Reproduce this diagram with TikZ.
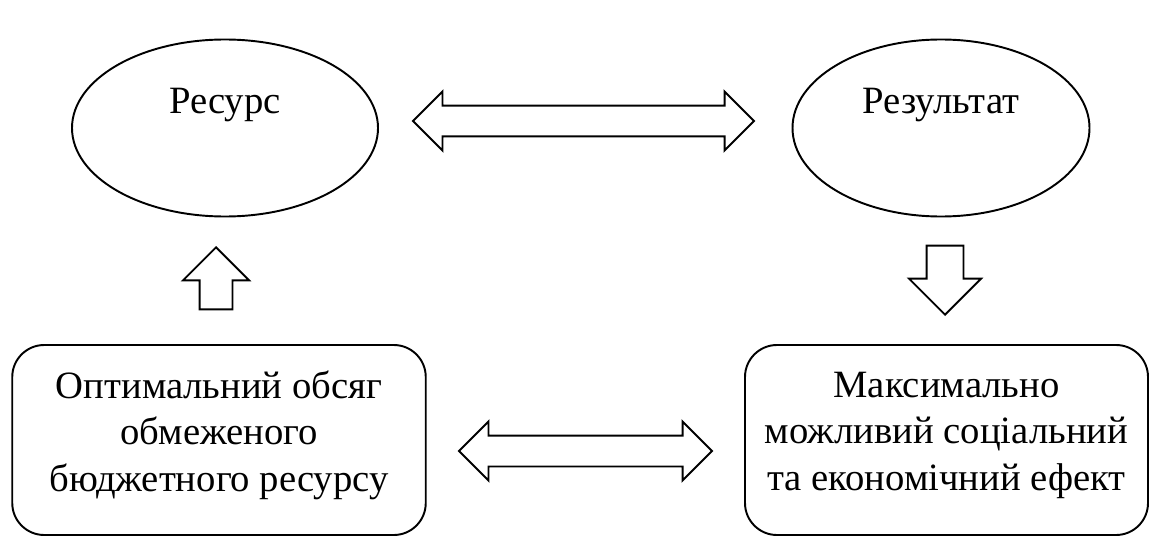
\documentclass[tikz,border=0pt]{standalone}
\usepackage{fontspec}
\setmainfont{Liberation Serif}
\usetikzlibrary{shapes.geometric, shapes.arrows}

\begin{document}
\begin{tikzpicture}[
  every node/.style={font=\fontsize{22}{26.4}\selectfont},
  oval/.style={ellipse, draw, line width=1.1pt, inner sep=0pt,
               minimum height=3.54cm, text height=0.5cm, text depth=1.1cm},
  box/.style={draw, line width=1.1pt, rounded corners=0.64cm, align=center,
              minimum height=3.8cm, execute at end node={\rule[-0.36cm]{0pt}{0pt}}},
  dblarrow/.style={double arrow, draw, line width=1.1pt, inner xsep=0pt,
                   inner ysep=0.29cm, double arrow head extend=0.28cm},
  blkarrow/.style={single arrow, draw, line width=1.1pt, inner ysep=0pt, anchor=tip},
]
\useasboundingbox (0,0) rectangle (22.98,-10.74);

\node[oval, minimum width=6.12cm] (res) at (4.50,-2.56)  {Ресурс};
\node[oval, minimum width=5.94cm] (rez) at (18.82,-2.56) {Результат};
\node[box, minimum width=8.27cm]  (opt) at (4.38,-8.80)
  {Оптимальний обсяг\\обмеженого\\бюджетного ресурсу};
\node[box, minimum width=8.06cm]  (eff) at (18.93,-8.80)
  {Максимально\\можливий соціальний\\та економічний ефект};

% block arrows
\node[dblarrow, minimum height=6.82cm] (top) at (11.67,-2.42) {};
\node[dblarrow, minimum height=5.06cm] (bot) at (11.71,-9.02) {};
\node[blkarrow, shape border rotate=90, minimum height=1.24cm, inner xsep=0.31cm,
      single arrow head extend=0.33cm] (up) at (4.32,-4.92) {};
\node[blkarrow, shape border rotate=270, minimum height=1.38cm, inner xsep=0.35cm,
      single arrow head extend=0.35cm] (down) at (18.90,-6.32) {};
\end{tikzpicture}
\end{document}
